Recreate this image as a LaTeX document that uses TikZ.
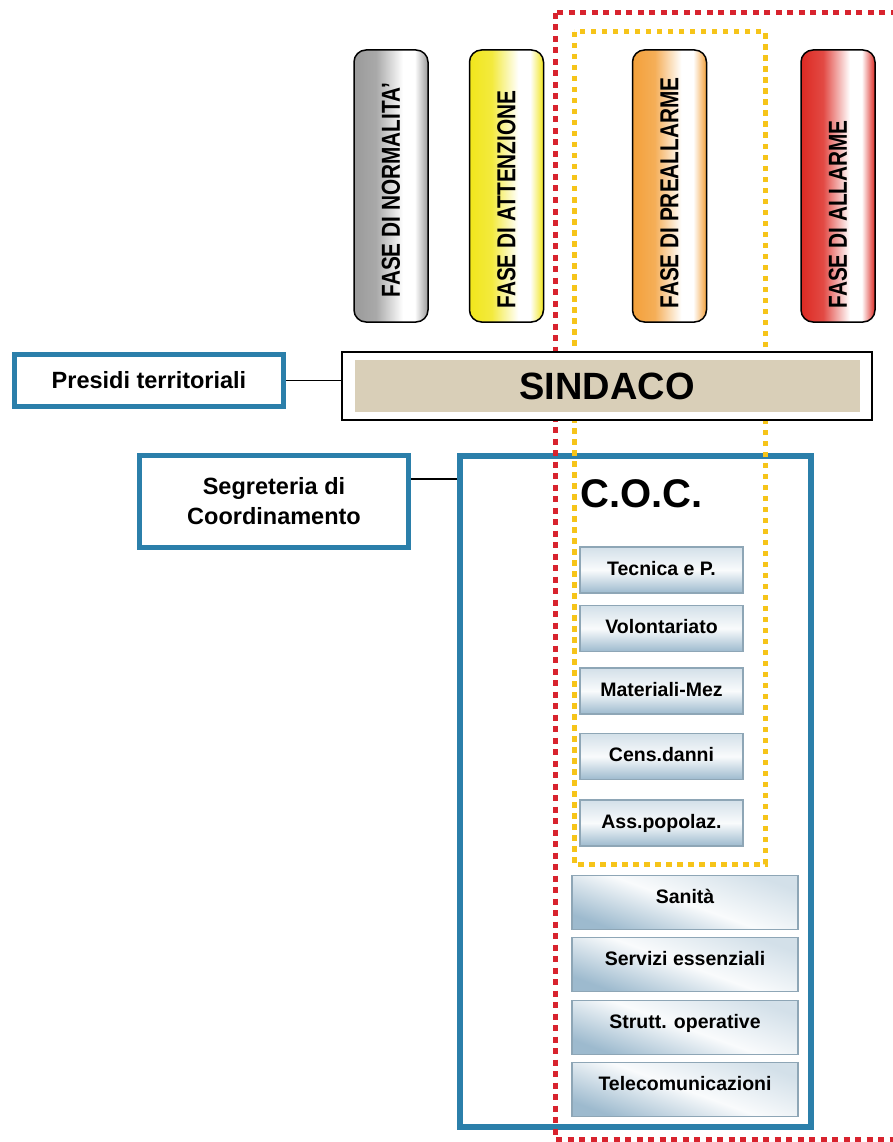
\documentclass[tikz,border=0pt]{standalone}
\usepackage{fontspec}
\setmainfont{Liberation Sans}
\usepackage{tikz}
\usetikzlibrary{calc}
\definecolor{CocBlue}{HTML}{2B7FAA}
\definecolor{SindacoTan}{HTML}{D9CFB8}
\definecolor{DotRed}{HTML}{D8232E}
\definecolor{DotGold}{HTML}{F6C419}
\definecolor{CellBlue}{HTML}{9DBACE}
\definecolor{CellLine}{HTML}{8EA6B6}
\definecolor{PillGrey}{HTML}{9A9A9A}
\definecolor{PillYellow}{HTML}{F1E61C}
\definecolor{PillOrange}{HTML}{F3A03A}
\definecolor{PillRed}{HTML}{DD2A23}
\colorlet{pillc}{PillGrey}
\pgfdeclarehorizontalshading[pillc]{pillshade}{100bp}{color(0bp)=(pillc); color(25bp)=(pillc); color(40bp)=(pillc!85); color(58bp)=(white); color(66bp)=(white); color(75bp)=(pillc); color(100bp)=(pillc)}

\tikzset{
  bluebox/.style={draw=CocBlue, line width=5pt, fill=white, align=center, font=\fontsize{23.5}{30}\selectfont\bfseries},
  pill/.style={draw=black, line width=1.5pt, rounded corners=12pt, minimum width=74pt, minimum height=272pt, shading=pillshade},
  fasetext/.style={rotate=90, anchor=west, inner sep=0pt, font=\fontsize{26}{26}\selectfont\bfseries},
  cellbox/.style={draw=CellLine, line width=1.2pt, top color=CellBlue!45, bottom color=CellBlue, middle color=white!94!CellBlue, font=\fontsize{19.5}{22}\selectfont\bfseries, text height=14pt},
  redline/.style={DotRed, line width=5pt, dash pattern=on 6pt off 5.5pt},
  goldline/.style={DotGold, line width=5pt, dash pattern=on 5.5pt off 5.5pt}
}

\begin{document}
\begin{tikzpicture}[x=1pt, y=-1pt]
  \fill[white] (0,0) rectangle (892,1142);
  \useasboundingbox (0,0) rectangle (892,1142);

  % phases
  \foreach \x/\name/\col/\up/\txt in {391/normal/PillGrey/25/{FASE DI NORMALITA'}, 506.5/attn/PillYellow/14/{FASE DI ATTENZIONE}, 669.5/preall/PillOrange/14/{FASE DI PREALLARME}, 838/allarme/PillRed/14/{FASE DI ALLARME}}{
    \colorlet{pillc}{\col}
    \node[pill] (\name) at (\x,186) {};
    \node[fasetext] (\name txt) at ($(\name.south)+(0,-\up)$) {\scalebox{0.8}[1]{\txt}};
  }

  % C.O.C. and side boxes
  \node[draw=CocBlue, line width=6pt, minimum width=351pt, minimum height=671pt] (coc) at (635.5,791.5) {};
  \node[bluebox, minimum width=269pt, minimum height=52pt] (presidi) at (149,380.5) {Presidi territoriali};
  \node[bluebox, minimum width=269pt, minimum height=92pt] (segr) at (274,501.5) {Segreteria di\\Coordinamento};

  % alert areas
  \draw[redline] (555,13) rectangle (905,1139);
  \draw[goldline] (574,32) rectangle (765,864);

  \node[draw=black, line width=2pt, fill=white, minimum width=530pt, minimum height=68pt] (sindaco) at (607,386) {};
  \node[fill=SindacoTan, minimum width=505pt, minimum height=52pt, font=\fontsize{38}{38}\selectfont\bfseries] (sindacotxt) at (sindaco.center) {SINDACO};
  \node[anchor=base west, inner sep=0pt, font=\fontsize{40}{40}\selectfont\bfseries] (coctitle) at (580,507) {C.O.C.};

  % functions
  \foreach \y/\name/\txt in {570/tecn/Tecnica e P., 628.5/volo/Volontariato, 691/mate/Materiali-Mez, 756.5/cens/Cens.danni, 823/assp/Ass.popolaz.}
    \node[cellbox, text depth=4pt, minimum width=163pt, minimum height=46pt] (\name) at (661.5,\y) {\txt};
  \foreach \y/\name/\txt in {902.5/sani/Sanità, 964.5/serv/Servizi essenziali, 1027.5/strt/Strutt. operative, 1089.5/tele/Telecomunicazioni}
    \node[cellbox, shading angle=-20, text depth=12pt, minimum width=226pt, minimum height=54pt] (\name) at (685,\y) {\txt};

  \draw[line width=1.2pt] (presidi.east) -- (presidi.east -| sindaco.west);
  \draw[line width=1.2pt] ([yshift=22.5pt]segr.east) -- ([yshift=22.5pt]segr.east -| coc.west);
\end{tikzpicture}
\end{document}
